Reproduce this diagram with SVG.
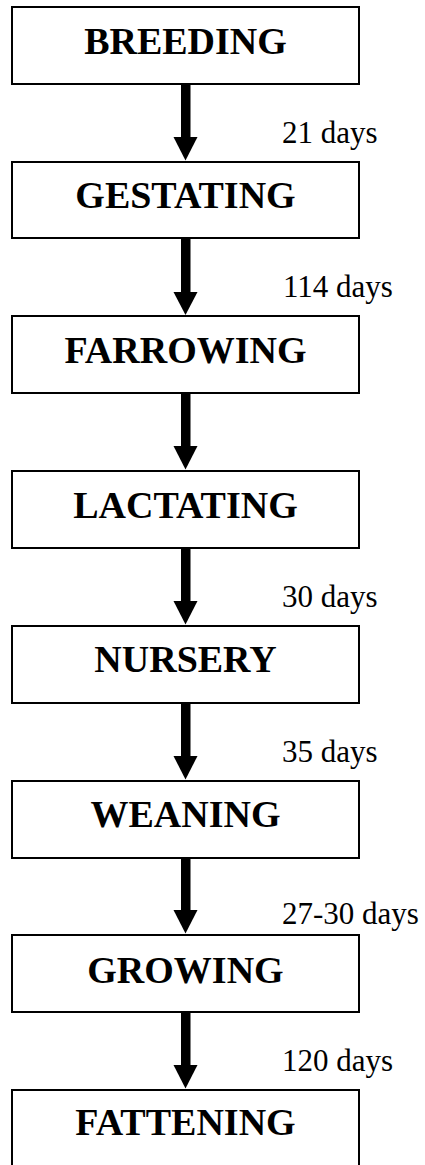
<svg xmlns="http://www.w3.org/2000/svg" width="425" height="1165" viewBox="0 0 425 1165">
<style>
.box{fill:#fff;stroke:#000;stroke-width:2}
.t{font-family:"Liberation Serif","Times New Roman",serif;font-weight:bold;font-size:38px;text-anchor:middle;fill:#000}
.l{font-family:"Liberation Serif","Times New Roman",serif;font-size:31px;fill:#000}
.sh{fill:#000}
</style>
<rect width="425" height="1165" fill="#fff"/>
<g id="connectors">
<g><rect class="sh" x="181" y="84" width="9.5" height="54"/><polygon class="sh" points="173.5,137 197.5,137 185.5,160.5"/></g>
<g><rect class="sh" x="181" y="238" width="9.5" height="55"/><polygon class="sh" points="173.5,292 197.5,292 185.5,315"/></g>
<g><rect class="sh" x="181" y="393" width="9.5" height="54"/><polygon class="sh" points="173.5,446 197.5,446 185.5,469.5"/></g>
<g><rect class="sh" x="181" y="548" width="9.5" height="54"/><polygon class="sh" points="173.5,601 197.5,601 185.5,624.5"/></g>
<g><rect class="sh" x="181" y="703" width="9.5" height="54"/><polygon class="sh" points="173.5,756 197.5,756 185.5,779.5"/></g>
<g><rect class="sh" x="181" y="858" width="9.5" height="53"/><polygon class="sh" points="173.5,910 197.5,910 185.5,933.5"/></g>
<g><rect class="sh" x="181" y="1012" width="9.5" height="54"/><polygon class="sh" points="173.5,1065 197.5,1065 185.5,1088.5"/></g>
<text class="l" x="282" y="143">21 days</text>
<text class="l" x="283" y="297">114 days</text>
<text class="l" x="282" y="607">30 days</text>
<text class="l" x="282" y="762">35 days</text>
<text class="l" x="282" y="924">27-30 days</text>
<text class="l" x="282" y="1071">120 days</text>
</g>
<g id="breeding"><rect class="box" x="12" y="7" width="347" height="77"/><text class="t" x="185.5" y="54">BREEDING</text></g>
<g id="gestating"><rect class="box" x="12" y="162" width="347" height="76"/><text class="t" x="185.5" y="208">GESTATING</text></g>
<g id="farrowing"><rect class="box" x="12" y="316" width="347" height="77"/><text class="t" x="185.5" y="363">FARROWING</text></g>
<g id="lactating"><rect class="box" x="12" y="471" width="347" height="77"/><text class="t" x="185.5" y="518">LACTATING</text></g>
<g id="nursery"><rect class="box" x="12" y="626" width="347" height="77"/><text class="t" x="185.5" y="672">NURSERY</text></g>
<g id="weaning"><rect class="box" x="12" y="781" width="347" height="77"/><text class="t" x="185.5" y="827">WEANING</text></g>
<g id="growing"><rect class="box" x="12" y="935" width="347" height="77"/><text class="t" x="185.5" y="983">GROWING</text></g>
<g id="fattening"><rect class="box" x="12" y="1090" width="347" height="80"/><text class="t" x="185.5" y="1135">FATTENING</text></g>
</svg>
